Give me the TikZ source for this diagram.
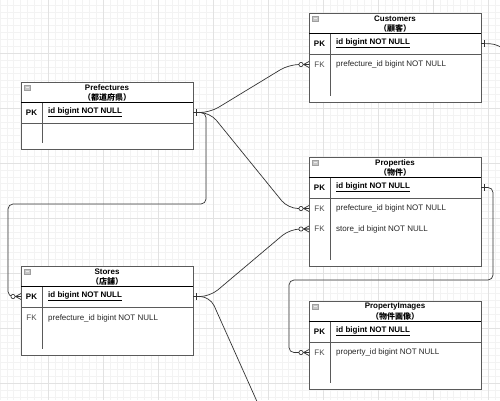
\documentclass[tikz,border=0pt]{standalone}
\usepackage{fontspec}
\setmainfont{Liberation Sans}
\newfontfamily\cjk{Noto Sans CJK JP}
\usetikzlibrary{calc}
\definecolor{boxc}{HTML}{5A5A5A}
\definecolor{conc}{HTML}{333333}
\definecolor{gminor}{HTML}{F3F3F3}
\definecolor{gmajor}{HTML}{E2E2E2}
\tikzset{
  ent/.style={draw=boxc, fill=white, line width=0.9pt, minimum width=172pt, anchor=north west, inner sep=0pt, outer sep=0pt},
  ttl/.style={font=\fontsize{8}{9}\selectfont\bfseries, inner sep=0pt},
  sub/.style={font=\fontsize{8}{9}\selectfont\cjk\bfseries, inner sep=0pt},
  keyl/.style={font=\fontsize{8}{9}\selectfont\bfseries, inner sep=0pt},
  fkl/.style={font=\fontsize{8}{9}\selectfont, text=black!70, inner sep=0pt},
  pkf/.style={font=\fontsize{8}{9}\selectfont\bfseries, anchor=west, inner sep=0pt},
  fkf/.style={font=\fontsize{8}{9}\selectfont, anchor=west, inner sep=0pt, text=black!85},
  conn/.style={draw=conc, line width=0.7pt, rounded corners=10pt},
  connr/.style={draw=conc, line width=0.7pt, rounded corners=5pt},
  mk/.style={draw=conc, line width=0.7pt},
}
\newcommand\entity[6]{%
  \node[ent, minimum height=#4pt] (#1) at (#2,#3) {};
  \draw[gray!75, line width=0.4pt, fill=gray!45] ([xshift=3.5pt,yshift=-3.5pt]#1.north west) rectangle ++(5.5,4.5);
  \draw[gray!15, line width=0.6pt] ([xshift=4.5pt,yshift=-5.75pt]#1.north west) -- ++(3.5,0);
  \draw[black, line width=0.9pt] ([yshift=-20.5pt]#1.north west) -- ([yshift=-20.5pt]#1.north east);
  \draw[boxc, line width=0.9pt] ([yshift=-41pt]#1.north west) -- ([yshift=-41pt]#1.north east);
  \draw[boxc, line width=0.9pt] ([xshift=21pt,yshift=-20.5pt]#1.north west) -- ([xshift=21pt,yshift=6pt]#1.south west);
  \node[ttl] (#1-t) at ([xshift=86pt,yshift=-6pt]#1.north west) {#5};
  \node[sub] (#1-s) at ([xshift=86pt,yshift=-15pt]#1.north west) {#6};
  \node[keyl] (#1-pkl) at ([xshift=10.5pt,yshift=-30.5pt]#1.north west) {PK};
  \node[pkf] (#1-pk) at ([xshift=27pt,yshift=-30.5pt]#1.north west) {\underline{id bigint NOT NULL}};
}
\newcommand\fkrow[4]{%
  \node[fkl] (#1-l) at ([xshift=10.5pt,yshift=-#3pt]#2.north west) {FK};
  \node[fkf] (#1) at ([xshift=27pt,yshift=-#3pt]#2.north west) {#4};
}
\newcommand\onemark[1]{\draw[mk] ($(#1)+(3,-3.2)$) -- ++(0,6.4);}
\newcommand\manymark[1]{%
  \draw[mk] ($(#1)+(-5.5,0)$) -- ($(#1)+(0,-3)$) ($(#1)+(-5.5,0)$) -- ($(#1)+(0,3)$) ($(#1)+(-5.5,0)$) -- (#1);
  \draw[mk, fill=white] ($(#1)+(-8,0)$) circle (2.1pt);
}
\begin{document}
\begin{tikzpicture}[x=1pt, y=-1pt]
\useasboundingbox (0,0) rectangle (500,400);
\clip (0,0) rectangle (500,400);
\fill[white] (0,0) rectangle (500,400);
% grid
\foreach \i in {0,...,74} {
  \draw[gminor, line width=0.5pt] ({-0.125+6.875*\i},0) -- ++(0,400);
}
\foreach \i in {0,...,60} {
  \draw[gminor, line width=0.5pt] (0,{-2+6.875*\i}) -- ++(500,0);
}
\foreach \i in {0,...,9} {
  \draw[gmajor, line width=0.5pt] ({-7+55*\i},0) -- ++(0,400);
}
\foreach \i in {0,...,8} {
  \draw[gmajor, line width=0.5pt] (0,{-2+55*\i}) -- ++(500,0);
}
% entities
\entity{pref}{21}{82}{67}{Prefectures}{（都道府県）}
\entity{cust}{309}{13}{89}{Customers}{（顧客）}
\fkrow{cust-fk}{cust}{51.5}{prefecture\_id bigint NOT NULL}
\entity{prop}{309}{157}{109}{Properties}{（物件）}
\fkrow{prop-fk1}{prop}{51.5}{prefecture\_id bigint NOT NULL}
\fkrow{prop-fk2}{prop}{72}{store\_id bigint NOT NULL}
\entity{store}{21}{266}{89}{Stores}{（店舗）}
\fkrow{store-fk}{store}{52}{prefecture\_id bigint NOT NULL}
\entity{pimg}{309}{301}{88}{PropertyImages}{（物件画像）}
\fkrow{pimg-fk}{pimg}{51.5}{property\_id bigint NOT NULL}
% endpoints
\coordinate (pref-e) at (pref.east |- pref-pk);
\coordinate (cust-e) at (cust.east |- cust-pk);
\coordinate (cust-fw) at (cust.west |- cust-fk);
\coordinate (prop-e) at (prop.east |- prop-pk);
\coordinate (prop-f1w) at (prop.west |- prop-fk1);
\coordinate (prop-f2w) at (prop.west |- prop-fk2);
\coordinate (store-e) at (store.east |- store-pk);
\coordinate (store-w) at (store.west |- store-pk);
\coordinate (pimg-fw) at (pimg.west |- pimg-fk);
\coordinate (c3a) at (206,204);
\coordinate (c3b) at (8,204);
\coordinate (c6a) at (493,280);
\coordinate (c6b) at (289,280);
\coordinate (custout) at (507,52);
\coordinate (storeout) at (259,406);
% connectors
\draw[conn] (pref-e) -- ++(17,0) -- ($(cust-fw)+(-20,0)$) -- (cust-fw);
\draw[conn] (pref-e) -- ++(17,0) -- ($(prop-f1w)+(-21,0)$) -- (prop-f1w);
\draw[connr] (pref-e) -| (c3a) -- (c3b) |- (store-w);
\draw[conn] (store-e) -- ++(17,0) -- ($(prop-f2w)+(-19,0)$) -- (prop-f2w);
\draw[conn] (store-e) -- ++(17,0) -- (storeout);
\draw[connr] (prop-e) -| (c6a) -- (c6b) |- (pimg-fw);
\draw[conn] (cust-e) -- (500,44) -- (custout);
% marks
\onemark{pref-e}
\onemark{cust-e}
\onemark{prop-e}
\onemark{store-e}
\manymark{cust-fw}
\manymark{prop-f1w}
\manymark{prop-f2w}
\manymark{store-w}
\manymark{pimg-fw}
\end{tikzpicture}
\end{document}
